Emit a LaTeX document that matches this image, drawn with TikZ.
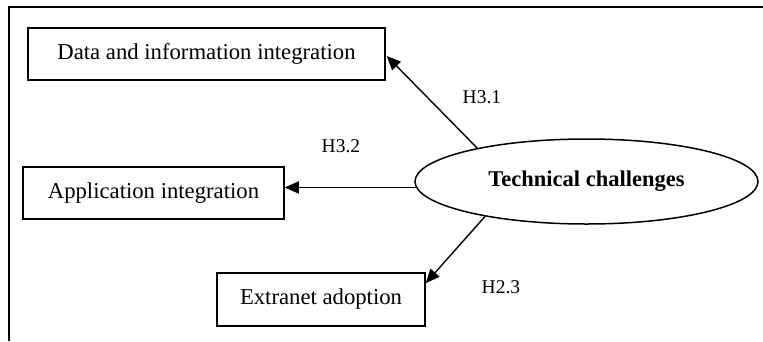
\documentclass[tikz,border=0pt]{standalone}
\usepackage{fontspec}
\setmainfont{Liberation Serif}
\usetikzlibrary{arrows.meta,calc,shapes.geometric}
\begin{document}
\begin{tikzpicture}[x=1pt,y=-1pt,
  box/.style={draw,line width=1.5pt,inner sep=0pt,font=\fontsize{22.7}{25}\selectfont},
  ell/.style={draw,ellipse,line width=1.5pt,inner sep=0pt,minimum width=343pt,minimum height=85pt,font=\fontsize{22.5}{25}\selectfont\bfseries},
  lbl/.style={inner sep=0pt,anchor=base west,font=\fontsize{19.5}{21}\selectfont},
  arr/.style={line width=1.4pt,-{Triangle[length=14pt,width=12pt]}}]
\useasboundingbox (0,0) rectangle (763,341);
\draw[line width=1.8pt] (9,341) -- (9,7) -- (763,7);
\node[box,minimum width=357pt,minimum height=52pt] (b1) at (206.5,54) {Data and information integration};
\node[box,minimum width=261pt,minimum height=52pt] (b2) at (153.5,193) {Application integration};
\node[box,minimum width=208pt,minimum height=53pt] (b3) at (321,299.5) {Extranet adoption};
\node[ell] (tc) at (586.5,181.5) {Technical challenges};
\draw[arr] (tc.163.5) -- ($(b1.east)+(1,2)$);
\draw[arr] (tc.182.5) -- (tc.182.5 -| b2.east);
\draw[arr] (tc.199.3) -- ($(b3.north east)!0.2!(b3.south east)$);
\node[lbl] (h31) at (462.5,103) {H3.1};
\node[lbl] (h32) at (321.5,152.5) {H3.2};
\node[lbl] (h23) at (481.5,293) {H2.3};
\end{tikzpicture}
\end{document}
